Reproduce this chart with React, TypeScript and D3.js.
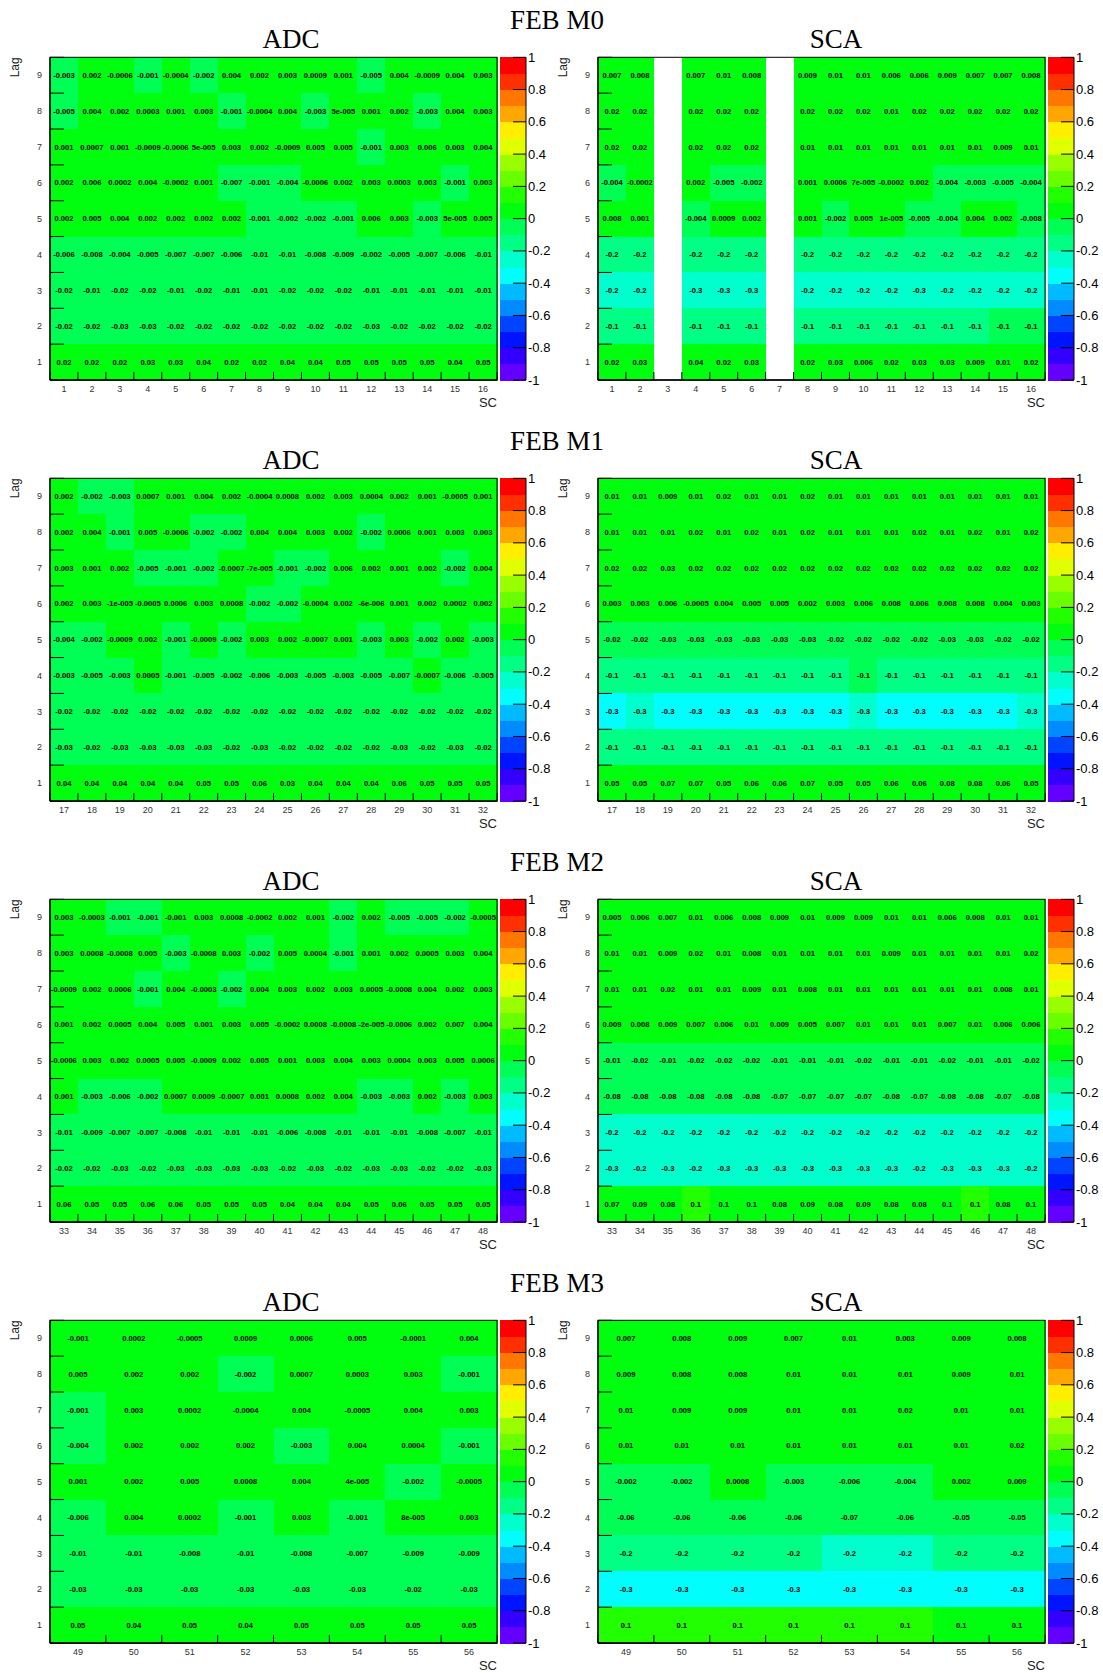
import React from "react";
import * as d3 from "d3";

// Lag values, top row first (lag 9 is drawn at the top of each map)
const lags = [9, 8, 7, 6, 5, 4, 3, 2, 1];

const febTitles = ["FEB M0", "FEB M1", "FEB M2", "FEB M3"];

// Supercell numbers on each FEB
const scM0 = [1, 2, 3, 4, 5, 6, 7, 8, 9, 10, 11, 12, 13, 14, 15, 16];
const scM1 = [17, 18, 19, 20, 21, 22, 23, 24, 25, 26, 27, 28, 29, 30, 31, 32];
const scM2 = [33, 34, 35, 36, 37, 38, 39, 40, 41, 42, 43, 44, 45, 46, 47, 48];
const scM3 = [49, 50, 51, 52, 53, 54, 55, 56];

// Correlation values; each row is one lag (9 down to 1), each column one SC.
// null = empty bin (not filled).
const m0Adc = [
  [-0.003, 0.002, -0.0006, -0.0012, -0.0004, -0.002, 0.004, 0.002, 0.003, 0.0009, 0.001, -0.005, 0.004, -0.0009, 0.004, 0.003],
  [-0.005, 0.004, 0.002, 0.0003, 0.001, 0.003, -0.0012, -0.0004, 0.004, -0.003, 5e-5, 0.001, 0.002, -0.003, 0.004, 0.003],
  [0.001, 0.0007, 0.001, -0.0009, -0.0006, 5e-5, 0.003, 0.002, -0.0009, 0.005, 0.005, -0.0012, 0.003, 0.006, 0.003, 0.004],
  [0.002, 0.006, 0.0002, 0.004, -0.0002, 0.001, -0.007, -0.0012, -0.004, -0.0006, 0.002, 0.003, 0.0003, 0.003, -0.0012, 0.003],
  [0.002, 0.005, 0.004, 0.002, 0.002, 0.002, 0.002, -0.0012, -0.002, -0.002, -0.0012, 0.006, 0.003, -0.003, 5e-5, 0.005],
  [-0.006, -0.008, -0.004, -0.005, -0.007, -0.007, -0.006, -0.01, -0.01, -0.008, -0.009, -0.002, -0.005, -0.007, -0.006, -0.01],
  [-0.02, -0.01, -0.02, -0.02, -0.01, -0.02, -0.01, -0.01, -0.02, -0.02, -0.02, -0.01, -0.01, -0.01, -0.01, -0.01],
  [-0.02, -0.02, -0.03, -0.03, -0.02, -0.02, -0.02, -0.02, -0.02, -0.02, -0.02, -0.03, -0.02, -0.02, -0.02, -0.02],
  [0.02, 0.02, 0.02, 0.03, 0.03, 0.04, 0.02, 0.02, 0.04, 0.04, 0.05, 0.05, 0.05, 0.05, 0.04, 0.05],
];

const m0Sca = [
  [0.007, 0.008, null, 0.007, 0.01, 0.008, null, 0.009, 0.01, 0.01, 0.006, 0.006, 0.009, 0.007, 0.007, 0.008],
  [0.02, 0.02, null, 0.02, 0.02, 0.02, null, 0.02, 0.02, 0.02, 0.01, 0.02, 0.02, 0.02, 0.02, 0.02],
  [0.02, 0.02, null, 0.02, 0.02, 0.02, null, 0.01, 0.01, 0.01, 0.01, 0.01, 0.01, 0.01, 0.009, 0.01],
  [-0.004, -0.0002, null, 0.002, -0.005, -0.002, null, 0.001, 0.0006, 7e-5, -0.0002, 0.002, -0.004, -0.003, -0.005, -0.004],
  [0.008, 0.001, null, -0.004, 0.0009, 0.002, null, 0.001, -0.002, 0.005, 1e-5, -0.005, -0.004, 0.004, 0.002, -0.008],
  [-0.18, -0.18, null, -0.18, -0.18, -0.18, null, -0.18, -0.18, -0.18, -0.18, -0.18, -0.18, -0.18, -0.18, -0.18],
  [-0.22, -0.22, null, -0.28, -0.28, -0.28, null, -0.22, -0.22, -0.22, -0.22, -0.28, -0.22, -0.22, -0.22, -0.22],
  [-0.12, -0.12, null, -0.12, -0.12, -0.12, null, -0.12, -0.12, -0.12, -0.12, -0.12, -0.12, -0.12, -0.1, -0.1],
  [0.02, 0.03, null, 0.04, 0.02, 0.03, null, 0.02, 0.03, 0.006, 0.02, 0.03, 0.03, 0.009, 0.01, 0.02],
];

const m1Adc = [
  [0.002, -0.002, -0.003, 0.0007, 0.001, 0.004, 0.002, -0.0004, 0.0008, 0.002, 0.003, 0.0004, 0.002, 0.001, -0.0005, 0.001],
  [0.002, 0.004, -0.0012, 0.005, -0.0006, -0.002, -0.002, 0.004, 0.004, 0.003, 0.002, -0.002, 0.0006, 0.001, 0.003, 0.003],
  [0.003, 0.001, 0.002, -0.005, -0.0012, -0.002, -0.0007, -7e-5, -0.0012, -0.002, 0.006, 0.002, 0.001, 0.002, -0.002, 0.004],
  [0.002, 0.003, -1e-5, -0.0005, 0.0006, 0.003, 0.0008, -0.002, -0.002, -0.0004, 0.002, -6e-6, 0.001, 0.002, 0.0002, 0.002],
  [-0.004, -0.002, -0.0009, 0.002, -0.0012, -0.0009, -0.002, 0.003, 0.002, -0.0007, 0.001, -0.003, 0.003, -0.002, 0.002, -0.003],
  [-0.003, -0.005, -0.003, 0.0005, -0.0012, -0.005, -0.002, -0.006, -0.003, -0.005, -0.003, -0.005, -0.007, -0.0007, -0.006, -0.005],
  [-0.02, -0.02, -0.02, -0.02, -0.02, -0.02, -0.02, -0.02, -0.02, -0.02, -0.02, -0.02, -0.02, -0.02, -0.02, -0.02],
  [-0.03, -0.02, -0.03, -0.03, -0.03, -0.03, -0.02, -0.03, -0.02, -0.02, -0.02, -0.02, -0.03, -0.02, -0.03, -0.02],
  [0.04, 0.04, 0.04, 0.04, 0.04, 0.05, 0.05, 0.06, 0.03, 0.04, 0.04, 0.04, 0.06, 0.05, 0.05, 0.05],
];

const m1Sca = [
  [0.01, 0.01, 0.009, 0.01, 0.02, 0.01, 0.01, 0.02, 0.01, 0.01, 0.01, 0.01, 0.01, 0.01, 0.01, 0.01],
  [0.01, 0.01, 0.01, 0.02, 0.01, 0.02, 0.01, 0.02, 0.01, 0.01, 0.01, 0.02, 0.01, 0.02, 0.01, 0.02],
  [0.02, 0.02, 0.03, 0.02, 0.02, 0.02, 0.02, 0.02, 0.02, 0.02, 0.02, 0.02, 0.02, 0.02, 0.02, 0.02],
  [0.003, 0.003, 0.006, -0.0005, 0.004, 0.005, 0.005, 0.002, 0.003, 0.006, 0.008, 0.006, 0.008, 0.008, 0.004, 0.003],
  [-0.02, -0.02, -0.03, -0.03, -0.03, -0.03, -0.03, -0.03, -0.02, -0.02, -0.02, -0.02, -0.03, -0.03, -0.02, -0.02],
  [-0.12, -0.12, -0.12, -0.12, -0.12, -0.12, -0.12, -0.12, -0.12, -0.1, -0.12, -0.12, -0.12, -0.12, -0.12, -0.12],
  [-0.32, -0.28, -0.32, -0.32, -0.32, -0.32, -0.32, -0.32, -0.32, -0.28, -0.32, -0.32, -0.32, -0.32, -0.32, -0.28],
  [-0.12, -0.12, -0.12, -0.12, -0.12, -0.12, -0.12, -0.12, -0.12, -0.12, -0.12, -0.12, -0.12, -0.12, -0.12, -0.12],
  [0.05, 0.05, 0.07, 0.07, 0.05, 0.06, 0.06, 0.07, 0.05, 0.05, 0.06, 0.06, 0.08, 0.08, 0.06, 0.05],
];

const m2Adc = [
  [0.003, -0.0003, -0.0012, -0.0012, -0.00098, 0.003, 0.0008, -0.0002, 0.002, 0.001, -0.002, 0.002, -0.005, -0.005, -0.002, -0.0005],
  [0.003, 0.0008, -0.0008, 0.005, -0.003, -0.0008, 0.003, -0.002, 0.005, 0.0004, -0.0012, 0.001, 0.002, 0.0005, 0.003, 0.004],
  [-0.0009, 0.002, 0.0006, -0.0012, 0.004, -0.0003, -0.002, 0.004, 0.003, 0.002, 0.003, 0.0005, -0.0008, 0.004, 0.002, 0.003],
  [0.001, 0.002, 0.0005, 0.004, 0.005, 0.001, 0.003, 0.005, -0.0002, 0.0008, -0.0008, -2e-5, -0.0006, 0.002, 0.007, 0.004],
  [-0.0006, 0.003, 0.002, 0.0005, 0.005, -0.0009, 0.002, 0.005, 0.001, 0.003, 0.004, 0.003, 0.0004, 0.003, 0.005, 0.0006],
  [0.001, -0.003, -0.006, -0.002, 0.0007, 0.0009, -0.0007, 0.001, 0.0008, 0.002, 0.004, -0.003, -0.003, 0.002, -0.003, 0.003],
  [-0.01, -0.009, -0.007, -0.007, -0.008, -0.01, -0.01, -0.01, -0.006, -0.008, -0.01, -0.01, -0.01, -0.008, -0.007, -0.01],
  [-0.02, -0.02, -0.03, -0.02, -0.03, -0.03, -0.03, -0.03, -0.02, -0.03, -0.02, -0.03, -0.03, -0.02, -0.02, -0.03],
  [0.06, 0.05, 0.05, 0.06, 0.06, 0.05, 0.05, 0.05, 0.04, 0.04, 0.04, 0.05, 0.06, 0.05, 0.05, 0.05],
];

const m2Sca = [
  [0.005, 0.006, 0.007, 0.01, 0.006, 0.008, 0.009, 0.01, 0.009, 0.009, 0.01, 0.01, 0.006, 0.008, 0.01, 0.01],
  [0.01, 0.01, 0.009, 0.02, 0.01, 0.008, 0.01, 0.01, 0.01, 0.01, 0.009, 0.01, 0.01, 0.01, 0.01, 0.02],
  [0.01, 0.01, 0.02, 0.01, 0.01, 0.009, 0.01, 0.008, 0.01, 0.01, 0.01, 0.01, 0.01, 0.01, 0.008, 0.01],
  [0.009, 0.008, 0.009, 0.007, 0.006, 0.01, 0.009, 0.005, 0.007, 0.01, 0.01, 0.01, 0.007, 0.01, 0.006, 0.006],
  [-0.01, -0.02, -0.01, -0.02, -0.02, -0.02, -0.01, -0.01, -0.01, -0.02, -0.01, -0.01, -0.02, -0.01, -0.01, -0.02],
  [-0.08, -0.08, -0.08, -0.08, -0.08, -0.08, -0.07, -0.07, -0.07, -0.07, -0.08, -0.07, -0.08, -0.08, -0.07, -0.08],
  [-0.22, -0.22, -0.22, -0.22, -0.22, -0.22, -0.22, -0.22, -0.22, -0.22, -0.22, -0.22, -0.22, -0.22, -0.22, -0.22],
  [-0.28, -0.22, -0.28, -0.22, -0.28, -0.28, -0.28, -0.28, -0.28, -0.28, -0.28, -0.22, -0.28, -0.28, -0.28, -0.22],
  [0.07, 0.09, 0.08, 0.1, 0.097, 0.097, 0.08, 0.09, 0.08, 0.09, 0.08, 0.08, 0.097, 0.1, 0.08, 0.097],
];

const m3Adc = [
  [-0.00098, 0.0002, -0.0005, 0.0009, 0.0006, 0.005, -0.0001, 0.004],
  [0.005, 0.002, 0.002, -0.002, 0.0007, 0.0003, 0.003, -0.0012],
  [-0.0012, 0.003, 0.0002, -0.0004, 0.004, -0.0005, 0.004, 0.003],
  [-0.004, 0.002, 0.002, 0.002, -0.003, 0.004, 0.0004, -0.0012],
  [0.001, 0.002, 0.005, 0.0008, 0.004, 4e-5, -0.002, -0.0005],
  [-0.006, 0.004, 0.0002, -0.0012, 0.003, -0.0012, 8e-5, 0.003],
  [-0.01, -0.01, -0.008, -0.01, -0.008, -0.007, -0.009, -0.009],
  [-0.03, -0.03, -0.03, -0.03, -0.03, -0.03, -0.02, -0.03],
  [0.05, 0.04, 0.05, 0.04, 0.05, 0.05, 0.05, 0.05],
];

const m3Sca = [
  [0.007, 0.008, 0.009, 0.007, 0.01, 0.003, 0.009, 0.008],
  [0.009, 0.008, 0.008, 0.01, 0.01, 0.01, 0.009, 0.01],
  [0.01, 0.009, 0.009, 0.01, 0.01, 0.02, 0.01, 0.01],
  [0.01, 0.01, 0.01, 0.01, 0.01, 0.01, 0.01, 0.02],
  [-0.002, -0.002, 0.0008, -0.003, -0.006, -0.004, 0.002, 0.009],
  [-0.06, -0.06, -0.06, -0.06, -0.07, -0.06, -0.05, -0.05],
  [-0.18, -0.18, -0.18, -0.18, -0.22, -0.22, -0.18, -0.18],
  [-0.32, -0.32, -0.32, -0.32, -0.32, -0.32, -0.32, -0.32],
  [0.1, 0.1, 0.1, 0.1, 0.1, 0.1, 0.097, 0.097],
];

// Colour bar tick values
const zTicks = [1, 0.8, 0.6, 0.4, 0.2, 0, -0.2, -0.4, -0.6, -0.8, -1];

const febs = [
  { title: febTitles[0], sc: scM0, adc: m0Adc, sca: m0Sca },
  { title: febTitles[1], sc: scM1, adc: m1Adc, sca: m1Sca },
  { title: febTitles[2], sc: scM2, adc: m2Adc, sca: m2Sca },
  { title: febTitles[3], sc: scM3, adc: m3Adc, sca: m3Sca },
];

// 20-level violet-to-red palette (50 hues, sampled per contour)
const NCONT = 20;
const palette = d3.range(NCONT).map((k) => {
  const idx = Math.floor(((k + 0.99) * 50) / NCONT);
  const hue = 280 - (idx + 1) * 5.6;
  return d3.hsl(hue, 1, 0.5).formatHex();
});
const colorScale = d3
  .scaleThreshold<number, string>()
  .domain(d3.range(1, NCONT).map((k) => (k - 10) / 10 - 0.001))
  .range(palette);

// "%.1g"-style cell text, three-digit exponent
function fmtCell(v: number): string {
  const [mant, ex] = v.toExponential(0).split("e");
  const e = Number(ex);
  if (e < -4) {
    return mant + "e-" + String(Math.abs(e)).padStart(3, "0");
  }
  return String(Number(v.toPrecision(1)));
}

function fmtTick(v: number): string {
  const r = Math.round(v * 10) / 10;
  return r === 0 ? "0" : String(r);
}

const SANS = "'Liberation Sans', Arial, Helvetica, sans-serif";
const SERIF = "'Liberation Serif', 'Times New Roman', serif";

const ROW_STEP = 421;
const FRAME_TOP = 57.3;
const FRAME_H = 322.7;

type PanelProps = {
  top: number;
  x0: number;
  x1: number;
  sc: number[];
  data: (number | null)[][];
  title: string;
  titleX: number;
};

function Panel({ top, x0, x1, sc, data, title, titleX }: PanelProps) {
  const bottom = top + FRAME_H;
  const x = d3.scaleBand<number>().domain(sc).range([x0, x1]);
  const y = d3.scaleBand<number>().domain(lags).range([top, bottom]);
  const z = d3.scaleLinear().domain([-1, 1]).range([bottom, top]);
  const bw = x.bandwidth();
  const bh = y.bandwidth();
  const cbX = x1 + 2.5;
  const cbW = 26.5;
  const bands = d3.range(NCONT).map((k) => ({ lo: (k - 10) / 10, hi: (k - 9) / 10, c: palette[k] }));
  const xEdges = d3.range(sc.length + 1).map((i) => x0 + i * bw);
  const yEdges = d3.range(lags.length + 1).map((i) => top + i * bh);

  return (
    <g>
      <text x={titleX} y={top - 9.3} textAnchor="middle" fontFamily={SERIF} fontSize={27} fill="#000">
        {title}
      </text>
      {/* cells */}
      <g shapeRendering="crispEdges">
        {data.map((row, ri) =>
          row.map((v, ci) =>
            v === null ? null : (
              <rect
                key={`c${ri}-${ci}`}
                x={x(sc[ci])}
                y={y(lags[ri])}
                width={bw + 0.5}
                height={bh + 0.5}
                fill={colorScale(v)}
              />
            )
          )
        )}
      </g>
      {/* cell values */}
      <g fontFamily={SANS} fontWeight="bold" fontSize={7.6} fill="#000" textAnchor="middle">
        {data.map((row, ri) =>
          row.map((v, ci) =>
            v === null ? null : (
              <text key={`t${ri}-${ci}`} x={(x(sc[ci]) as number) + bw / 2} y={(y(lags[ri]) as number) + bh / 2} dy="0.35em">
                {fmtCell(v)}
              </text>
            )
          )
        )}
      </g>
      {/* frame */}
      <rect x={x0} y={top} width={x1 - x0} height={FRAME_H} fill="none" stroke="#000" strokeWidth={1} />
      <line x1={x0} x2={x0} y1={top} y2={bottom} stroke="#000" strokeWidth={1.3} />
      <line x1={x0} x2={x1} y1={bottom} y2={bottom} stroke="#000" strokeWidth={1.5} />
      {/* y ticks */}
      {yEdges.map((yy, i) => (
        <line key={`yt${i}`} x1={x0} x2={x0 + 14} y1={yy} y2={yy} stroke="#000" strokeWidth={1} />
      ))}
      {/* x ticks */}
      {xEdges.map((xx, i) => (
        <line key={`xt${i}`} x1={xx} x2={xx} y1={bottom} y2={bottom - 8} stroke="#000" strokeWidth={1} />
      ))}
      {/* axis labels */}
      <g fontFamily={SANS} fontSize={9} fill="#333">
        {lags.map((l) => (
          <text key={`yl${l}`} x={x0 - 8} y={(y(l) as number) + bh / 2} dy="0.35em" textAnchor="end">
            {l}
          </text>
        ))}
        {sc.map((s) => (
          <text key={`xl${s}`} x={(x(s) as number) + bw / 2} y={bottom + 11.5} textAnchor="middle">
            {s}
          </text>
        ))}
      </g>
      <text x={x1} y={bottom + 27} textAnchor="end" fontFamily={SANS} fontSize={13} fill="#222">
        SC
      </text>
      <text
        transform={`translate(${x0 - 31},${top}) rotate(-90)`}
        textAnchor="end"
        fontFamily={SANS}
        fontSize={12}
        fill="#222"
      >
        Lag
      </text>
      {/* colour bar */}
      <g shapeRendering="crispEdges">
        {bands.map((b, i) => (
          <rect key={`cb${i}`} x={cbX} y={z(b.hi)} width={cbW} height={z(b.lo) - z(b.hi) + 0.5} fill={b.c} />
        ))}
      </g>
      <line x1={cbX + cbW} x2={cbX + cbW} y1={top} y2={bottom} stroke="#000" strokeWidth={1} />
      {zTicks.map((t) => (
        <g key={`zt${t}`}>
          <line x1={cbX + cbW - 13} x2={cbX + cbW} y1={z(t)} y2={z(t)} stroke="#000" strokeWidth={1} />
          <text x={cbX + cbW + 2} y={z(t)} dy="0.35em" fontFamily={SANS} fontSize={13} fill="#000">
            {fmtTick(t)}
          </text>
        </g>
      ))}
    </g>
  );
}

export default function App() {
  return (
    <svg
      width={1103}
      height={1673}
      viewBox="0 0 1103 1673"
      style={{ position: "absolute", left: 0, top: 0, background: "#fff" }}
    >
      <rect x={0} y={0} width={1103} height={1673} fill="#fff" />
      {febs.map((f, r) => {
        const top = FRAME_TOP + r * ROW_STEP;
        return (
          <g key={f.title}>
            <text x={557} y={29 + r * ROW_STEP} textAnchor="middle" fontFamily={SERIF} fontSize={27} fill="#000">
              {f.title}
            </text>
            <Panel top={top} x0={50} x1={497} sc={f.sc} data={f.adc} title="ADC" titleX={291} />
            <Panel top={top} x0={598} x1={1045} sc={f.sc} data={f.sca} title="SCA" titleX={836} />
          </g>
        );
      })}
    </svg>
  );
}
